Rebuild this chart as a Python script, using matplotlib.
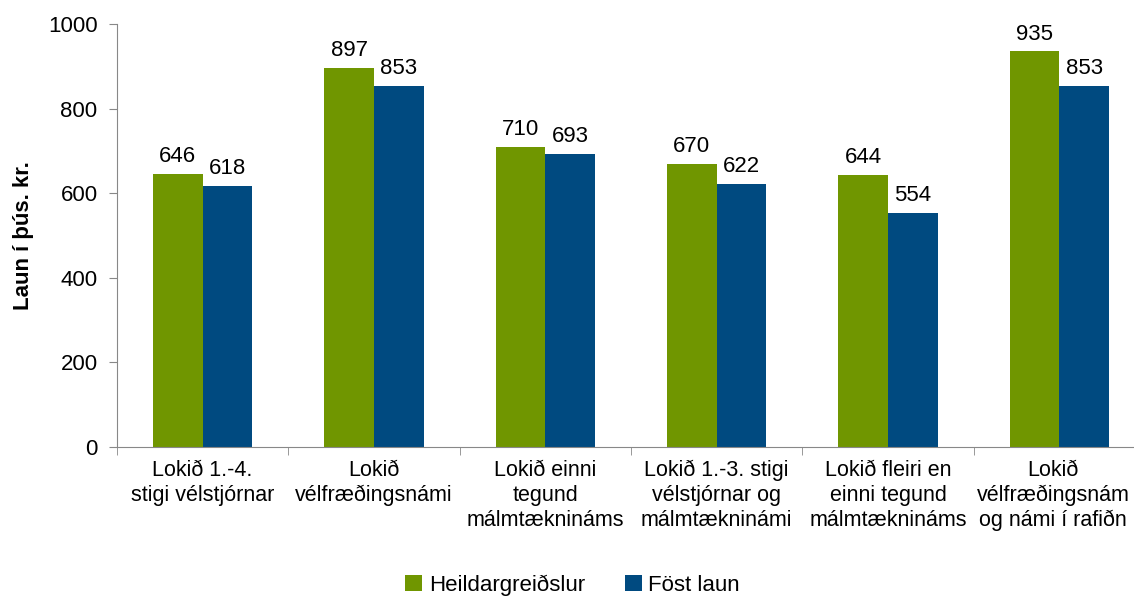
import matplotlib.pyplot as plt
import matplotlib.transforms as mtransforms
import numpy as np

# Flokkar og gildi (þús. kr.)
categories = [
    'Lokið 1.-4.\nstigi vélstjórnar',
    'Lokið\nvélfræðingsnámi',
    'Lokið einni\ntegund\nmálmtæknináms',
    'Lokið 1.-3. stigi\nvélstjórnar og\nmálmtækninámi',
    'Lokið fleiri en\neinni tegund\nmálmtæknináms',
    'Lokið\nvélfræðingsnám\nog námi í rafiðn',
]
heildar = [646, 897, 710, 670, 644, 935]
fost = [618, 853, 693, 622, 554, 853]
series_names = ['Heildargreiðslur', 'Föst laun']
colors = ['#709600', '#004A80']

plt.rcParams['font.family'] = ['Liberation Sans', 'DejaVu Sans']
plt.rcParams['font.size'] = 16

fig = plt.figure(figsize=(11.34, 6.07), dpi=100)
ax = fig.add_axes([117 / 1134, 1 - 447 / 607, (1145 - 117) / 1134, (447 - 24) / 607])

x = np.arange(len(categories))
w = 0.29
b1 = ax.bar(x - w / 2, heildar, w, color=colors[0], label=series_names[0])
b2 = ax.bar(x + w / 2, fost, w, color=colors[1], label=series_names[1])
for bars in (b1, b2):
    for r in bars:
        ax.text(r.get_x() + r.get_width() / 2, r.get_height() + 16, f'{int(r.get_height())}',
                ha='center', va='bottom', fontsize=16)

ax.set_xlim(-0.5, len(categories) - 0.5)
ax.set_ylim(0, 1000)
ax.set_yticks(range(0, 1001, 200))
ax.set_ylabel('Laun í þús. kr.', fontweight='bold', fontsize=16, labelpad=10)

ax.set_xticks(x)
ax.set_xticklabels(categories, fontsize=15.5, linespacing=1.25)
ax.set_xticks(np.arange(-0.5, len(categories), 1), minor=True)
ax.tick_params(axis='x', which='major', length=0, pad=9)
ax.tick_params(axis='x', which='minor', length=6, color='#888888', direction='out')
ax.tick_params(axis='y', length=6, color='#888888', direction='out', pad=8)

# síðasti merkimiðinn færður aðeins til vinstri svo hann passi á myndina
last = ax.get_xticklabels()[-1]
last.set_transform(last.get_transform() + mtransforms.ScaledTranslation(-6 / 100, 0, fig.dpi_scale_trans))

for s in ('top', 'right'):
    ax.spines[s].set_visible(False)
for s in ('left', 'bottom'):
    ax.spines[s].set_color('#888888')

fig.legend(loc='lower center', bbox_to_anchor=(0.505, -0.015), ncol=2, frameon=False,
           fontsize=16, handlelength=0.75, handleheight=0.75, handletextpad=0.3, columnspacing=1.8)

fig.savefig('out.png', dpi=100)
